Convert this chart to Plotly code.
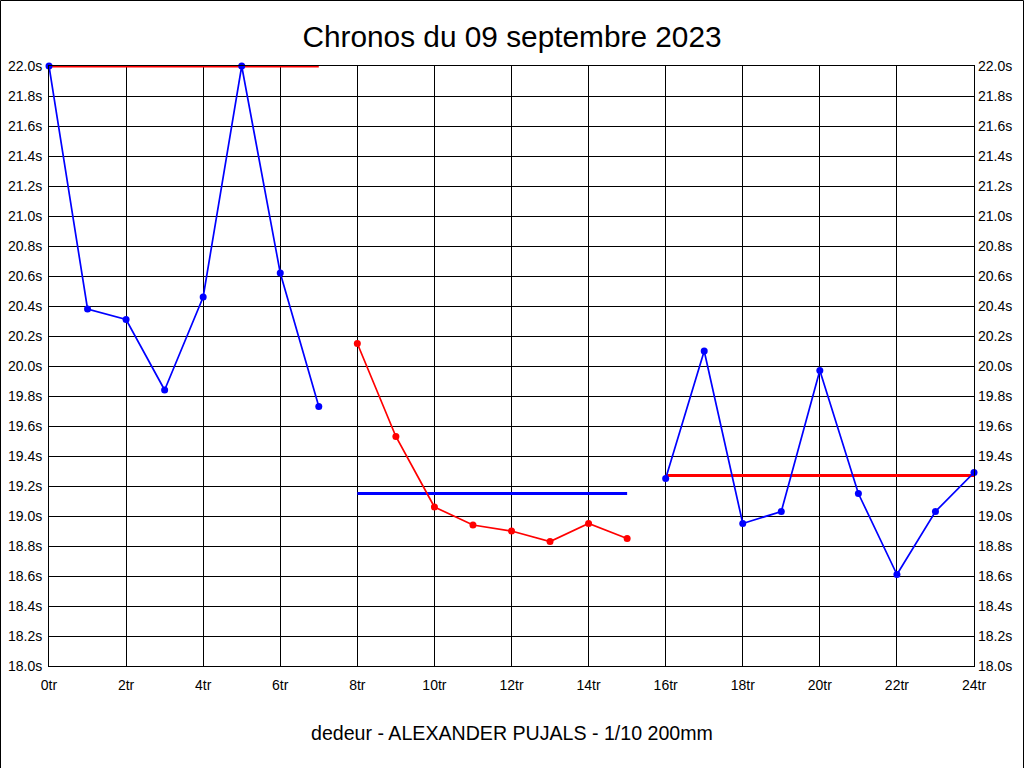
import plotly.graph_objects as go

# tours et chronos, par série
laps_1 = [0, 1, 2, 3, 4, 5, 6, 7]
times_1 = [22.0, 20.38, 20.31, 19.84, 20.46, 22.0, 20.62, 19.73]
avg_1 = 22.0

laps_2 = [8, 9, 10, 11, 12, 13, 14, 15]
times_2 = [20.15, 19.53, 19.06, 18.94, 18.90, 18.83, 18.95, 18.85]
avg_2 = 19.15

laps_3 = [16, 17, 18, 19, 20, 21, 22, 23, 24]
times_3 = [19.25, 20.10, 18.95, 19.03, 19.97, 19.15, 18.61, 19.03, 19.29]
avg_3 = 19.27

title = "Chronos du 09 septembre 2023"
subtitle = "dedeur - ALEXANDER PUJALS - 1/10 200mm"

FONT = "Liberation Sans, Arial, sans-serif"
BLUE = "#0000ff"
RED = "#ff0000"

fig = go.Figure()

series = [
    (laps_1, times_1, avg_1, BLUE, RED),
    (laps_2, times_2, avg_2, RED, BLUE),
    (laps_3, times_3, avg_3, BLUE, RED),
]

for laps, times, avg, col, avg_col in series:
    # moyenne de la série
    fig.add_trace(go.Scatter(
        x=[laps[0], laps[-1]], y=[avg, avg], mode="lines",
        line=dict(color=avg_col, width=3), hoverinfo="skip",
        cliponaxis=False,
    ))
    fig.add_trace(go.Scatter(
        x=laps, y=times, mode="lines+markers",
        line=dict(color=col, width=1.7),
        marker=dict(color=col, size=7),
        cliponaxis=False,
    ))

# axe de droite (même échelle)
fig.add_trace(go.Scatter(
    x=[laps_1[0]], y=[avg_1], yaxis="y2", mode="markers",
    marker=dict(opacity=0), hoverinfo="skip",
))

axis_font = dict(family=FONT, size=14, color="black")

fig.update_layout(
    width=1024, height=768,
    margin=dict(l=49, r=50, t=66, b=102, autoexpand=False),
    paper_bgcolor="white", plot_bgcolor="white",
    showlegend=False,
    title=dict(text=title, x=0.5, xanchor="center", y=0.953, yanchor="middle",
               font=dict(family=FONT, size=29.8, color="black")),
    xaxis=dict(
        range=[0, 24], dtick=2, tick0=0, ticksuffix="tr",
        showgrid=True, gridcolor="black", gridwidth=1,
        showline=True, linecolor="black", linewidth=1, mirror=True,
        zeroline=False, ticks="", ticklabelstandoff=6, automargin=False,
        tickfont=axis_font,
    ),
    yaxis=dict(
        range=[18, 22], dtick=0.2, tick0=18, tickformat=".1f", ticksuffix="s",
        showgrid=True, gridcolor="black", gridwidth=1,
        showline=True, linecolor="black", linewidth=1, mirror=True,
        zeroline=False, ticks="", ticklabelstandoff=3, automargin=False,
        tickfont=axis_font,
    ),
    yaxis2=dict(
        range=[18, 22], dtick=0.2, tick0=18, tickformat=".1f", ticksuffix="s",
        overlaying="y", side="right", showgrid=False, zeroline=False,
        showline=False, ticks="", ticklabelstandoff=3, automargin=False,
        tickfont=axis_font,
    ),
    annotations=[dict(
        text=subtitle, xref="paper", yref="paper", x=0.5, y=-0.112,
        xanchor="center", yanchor="middle", showarrow=False,
        font=dict(family=FONT, size=19.6, color="black"),
    )],
    shapes=[dict(
        type="rect", xref="paper", yref="paper",
        x0=-48.5 / 925, x1=974.5 / 925, y0=-700.5 / 600, y1=1 + 65.5 / 600,
        line=dict(color="black", width=1),
    )],
)

fig.write_html("out.html", config={"displayModeBar": False},
               post_script="document.body.style.margin='0';")
